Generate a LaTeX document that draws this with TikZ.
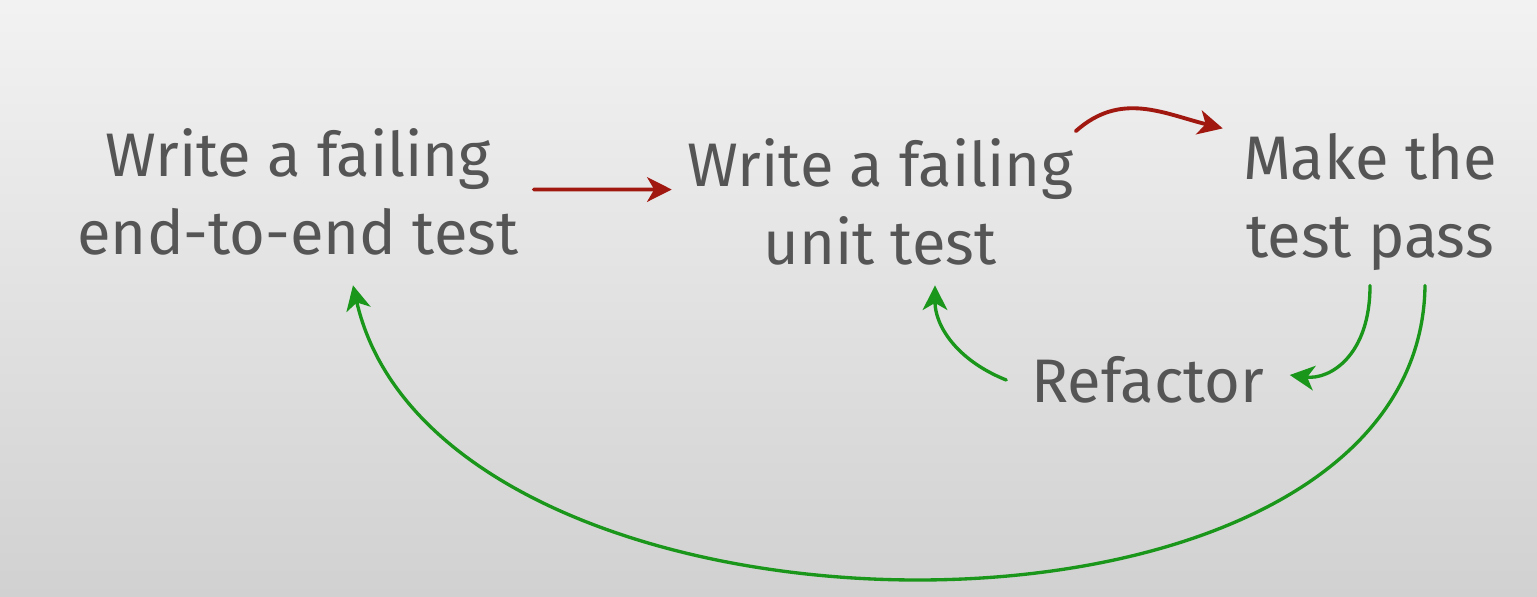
\documentclass[tikz,border=0pt]{standalone}
\usepackage{fontspec}
\setmainfont{Fira Sans}
\usepackage{tikz}
\usetikzlibrary{arrows.meta}

\definecolor{inkgrey}{HTML}{555555}
\definecolor{failred}{HTML}{A0180F}
\definecolor{passgreen}{HTML}{1A961A}

\begin{document}
\begin{tikzpicture}
   [x=0.02cm,y=0.02cm,
    stepbox/.style={text=inkgrey,align=center,inner sep=0pt,
       font=\fontsize{35}{44}\selectfont},
    redflow/.style={-{Stealth[length=14pt,width=14pt,inset=4pt]},
       draw=failred,line width=2.2pt,line cap=round},
    greenflow/.style={-{Stealth[length=14pt,width=14pt,inset=4pt]},
       draw=passgreen,line width=1.9pt,line cap=round}]
   % background
   \shade[top color=white!95!black,bottom color=white!82!black]
      (0,0) rectangle (1537,-596);
   \useasboundingbox (0,0) rectangle (1537,-596);

   \node[stepbox] (e2e) at (298,-192) {Write a failing\\end-to-end test};
   \node[stepbox] (unit) at (880,-202) {Write a failing\\unit test};
   \node[stepbox] (pass) at (1370,-202) {Make the\\test pass};
   \node[stepbox] (refac) at (1148,-380) {Refactor};

   \draw[redflow] ([xshift=0.3cm,yshift=0.05cm]e2e.east) -- ([xshift=-0.3cm,yshift=0.25cm]unit.west);
   \draw[redflow] ([xshift=0.05cm,yshift=0.15cm]unit.north east)
      .. controls +(45,40) and +(-60,15) .. ([xshift=-0.4cm,yshift=0.1cm]pass.north west);
   \draw[greenflow] ([yshift=-0.3cm]pass.south)
      .. controls +(0,-70) and +(40,-5) .. ([xshift=0.5cm,yshift=0.1cm]refac.east);
   \draw[greenflow] ([xshift=-0.5cm]refac.west)
      .. controls +(-50,20) and +(0,-40) .. ([xshift=1.1cm,yshift=-0.4cm]unit.south);
   \draw[greenflow] ([xshift=1.1cm,yshift=-0.3cm]pass.south)
      .. controls +(-5,-395) and +(88,-385) .. ([xshift=1.1cm,yshift=-0.6cm]e2e.south);
\end{tikzpicture}
\end{document}
